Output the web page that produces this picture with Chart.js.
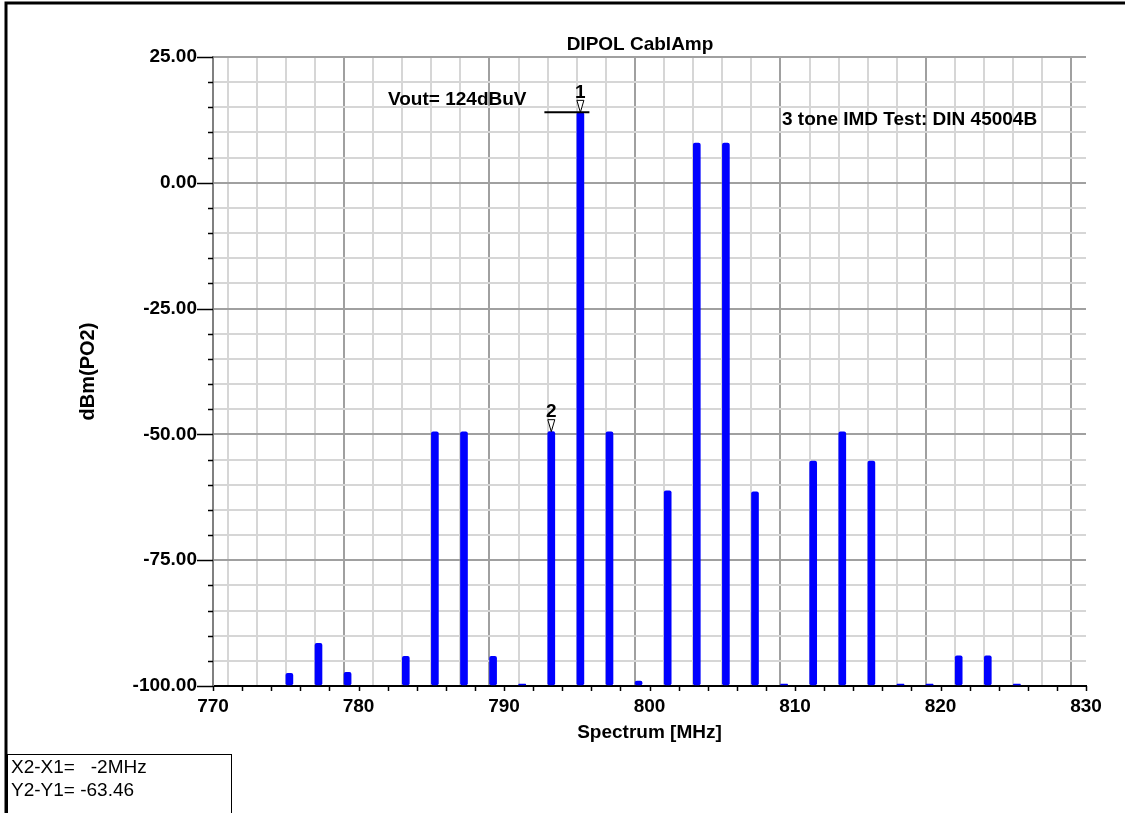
<!DOCTYPE html>
<html>
<head>
<meta charset="utf-8">
<title>DIPOL CablAmp</title>
<script src="https://cdn.jsdelivr.net/npm/chart.js"></script>
<style>
  html, body { margin: 0; padding: 0; background: #fff; }
  #wrap { position: relative; width: 1125px; height: 813px; }
</style>
</head>
<body>
<div id="wrap"><canvas id="chart"></canvas></div>
<script>
// ========== DATA ========== //
const freqs = [775.25, 777.25, 779.25, 783.25, 785.25, 787.25, 789.25, 791.25, 793.25,
               795.25, 797.25, 799.25, 801.25, 803.25, 805.25, 807.25, 809.25, 811.25,
               813.25, 815.25, 817.25, 819.25, 821.25, 823.25, 825.25];
const levels = [-97.5, -91.5, -97.3, -94.1, -49.5, -49.5, -94.1, -99.6, -49.46,
                14.0, -49.5, -99.0, -61.2, 7.9, 7.9, -61.4, -99.6, -55.3,
                -49.5, -55.3, -99.6, -99.6, -94.0, -94.0, -99.6];
const markerIds = ['1', '2'];
const markerFreqs = [795.25, 793.25];
const yLabelValues = [25, 0, -25, -50, -75, -100];
const xLabelValues = [770, 780, 790, 800, 810, 820, 830];

const FONT = '"Liberation Sans", Arial, sans-serif';

// ========== PLUGIN: frame, ticks, markers, notes ========== //
const annotations = {
  id: 'annotations',
  afterDraw(chart) {
    const ctx = chart.ctx;
    const xs = chart.scales.x, ys = chart.scales.y;
    const area = chart.chartArea;
    ctx.save();

    // outer frame (top + left)
    ctx.strokeStyle = '#000';
    ctx.lineWidth = 3;
    ctx.beginPath();
    ctx.moveTo(6, 813); ctx.lineTo(6, 3); ctx.lineTo(1125, 3);
    ctx.stroke();

    // tick marks
    ctx.lineWidth = 1.5;
    ctx.strokeStyle = '#000';
    for (let v = 770; v <= 830; v += 2) {
      const px = Math.round(xs.getPixelForValue(v)) + 0.5;
      ctx.beginPath();
      ctx.moveTo(px, area.bottom);
      ctx.lineTo(px, area.bottom + 5);
      ctx.stroke();
    }
    for (let v = -100; v <= 25; v += 5) {
      const py = Math.round(ys.getPixelForValue(v)) + 0.5;
      const len = yLabelValues.includes(v) ? 16 : 5;
      ctx.beginPath();
      ctx.moveTo(area.left - len, py);
      ctx.lineTo(area.left, py);
      ctx.stroke();
    }

    // texts
    ctx.fillStyle = '#000';
    ctx.font = 'bold 19px ' + FONT;
    ctx.textBaseline = 'middle';
    ctx.textAlign = 'center';
    ctx.fillText('DIPOL CablAmp', 640, 45);
    ctx.textAlign = 'left';
    ctx.fillText('Vout= 124dBuV', 388, 100);
    ctx.fillText('3 tone IMD Test: DIN 45004B', 782, 120);

    // markers
    markerIds.forEach((id, i) => {
      const f = markerFreqs[i];
      const v = levels[freqs.indexOf(f)];
      const px = xs.getPixelForValue(f);
      const py = ys.getPixelForValue(v);
      if (id === '1') {
        ctx.strokeStyle = '#000';
        ctx.lineWidth = 2;
        ctx.beginPath();
        ctx.moveTo(px - 36, py);
        ctx.lineTo(px + 9, py);
        ctx.stroke();
      }
      ctx.beginPath();
      ctx.moveTo(px - 3.5, py - 12);
      ctx.lineTo(px + 3.5, py - 12);
      ctx.lineTo(px, py);
      ctx.closePath();
      ctx.fillStyle = '#fff';
      ctx.fill();
      ctx.strokeStyle = '#000';
      ctx.lineWidth = 1;
      ctx.stroke();
      ctx.fillStyle = '#000';
      ctx.textAlign = 'center';
      ctx.font = 'bold 19px ' + FONT;
      ctx.fillText(id, px, py - 20);
    });

    // delta box
    ctx.fillStyle = '#fff';
    ctx.fillRect(7, 754, 224, 60);
    ctx.strokeStyle = '#000';
    ctx.lineWidth = 1;
    ctx.strokeRect(7.5, 754.5, 224, 70);
    ctx.fillStyle = '#000';
    ctx.font = '19px ' + FONT;
    ctx.textAlign = 'left';
    ctx.fillText('X2-X1=   -2MHz', 11, 768);
    ctx.fillText('Y2-Y1= -63.46', 11, 791);
    ctx.restore();
  }
};

// ========== CHART ========== //
const ctx = document.getElementById('chart').getContext('2d');
const chart = new Chart(ctx, {
  type: 'bar',
  data: {
    datasets: [{
      data: freqs.map((f, i) => ({ x: f, y: levels[i] })),
      backgroundColor: '#0000ff',
      borderWidth: 0,
      borderRadius: 2,
      borderSkipped: false,
      barThickness: 7,
      base: -100
    }]
  },
  plugins: [annotations],
  options: {
    responsive: true,
    maintainAspectRatio: false,
    animation: false,
    layout: { padding: { left: 60, top: 57, right: 39, bottom: 0 } },
    plugins: {
      legend: { display: false },
      tooltip: { enabled: false }
    },
    scales: {
      x: {
        type: 'linear',
        min: 770,
        max: 830,
        offset: false,
        afterFit: s => { s.height = 127; },
        ticks: {
          stepSize: 2,
          autoSkip: false,
          maxRotation: 0,
          padding: 9,
          color: '#000',
          font: { family: FONT, size: 19, weight: 'bold' },
          callback: v => xLabelValues.includes(v) ? String(v) : ''
        },
        grid: {
          drawTicks: false,
          lineWidth: 2,
          color: c => (c.tick && c.tick.value % 10 === 0) ? '#a0a0a0' : '#d6d6d6'
        },
        border: { color: '#000', width: 2 },
        title: {
          display: true,
          text: 'Spectrum [MHz]',
          color: '#000',
          font: { family: FONT, size: 19, weight: 'bold' },
          padding: { top: 0, bottom: 69 }
        }
      },
      y: {
        min: -100,
        max: 25,
        afterFit: s => { s.width = 153; },
        ticks: {
          stepSize: 5,
          autoSkip: false,
          padding: 16,
          color: '#000',
          font: { family: FONT, size: 19, weight: 'bold' },
          callback: v => yLabelValues.includes(v) ? v.toFixed(2) : ''
        },
        grid: {
          drawTicks: false,
          lineWidth: 2,
          color: c => (c.tick && c.tick.value % 25 === 0) ? '#a0a0a0' : '#d6d6d6'
        },
        border: { color: '#808080', width: 2 },
        title: {
          display: true,
          text: 'dBm(PO2)',
          color: '#000',
          font: { family: FONT, size: 20, weight: 'bold' },
          padding: { top: 16, bottom: 0 }
        }
      }
    }
  }
});
</script>
</body>
</html>
